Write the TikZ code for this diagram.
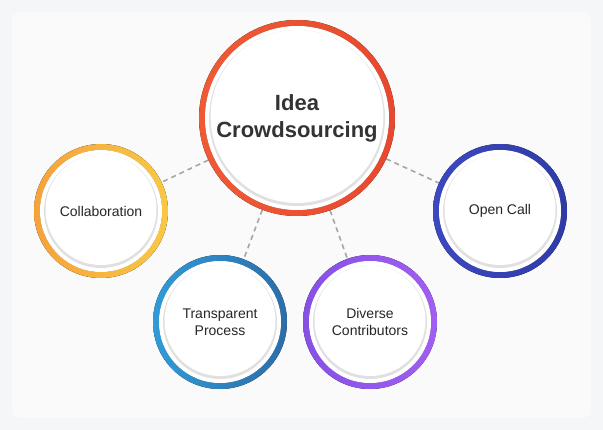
\documentclass[tikz,border=0pt]{standalone}
\usepackage{fontspec}
\setmainfont{Liberation Sans}
\usetikzlibrary{calc}
\begin{document}
\begin{tikzpicture}[x=1pt,y=-1pt,
  conn/.style={draw=gray!70,line width=1.6pt,dash pattern=on 5pt off 4pt},
  lbl/.style={font=\fontsize{14}{17}\selectfont,text=black!85,align=center}]
\definecolor{bg}{HTML}{F5F6F8}
\definecolor{rA}{HTML}{EF5A35}\definecolor{rB}{HTML}{E8482E}
\definecolor{oA}{HTML}{F6A23A}\definecolor{oB}{HTML}{F9C843}
\definecolor{bA}{HTML}{2F9BD8}\definecolor{bB}{HTML}{2C6DA8}
\definecolor{pA}{HTML}{8650E6}\definecolor{pB}{HTML}{A15EF2}
\definecolor{nA}{HTML}{3B48C2}\definecolor{nB}{HTML}{2F3BA6}
\fill[bg] (0,0) rectangle (603,430);
\fill[white!50!bg,rounded corners=8pt] (12,12) rectangle (591,418);
\node[circle,minimum size=196pt,inner sep=0] (c) at (297,118) {};
\node[circle,minimum size=134pt,inner sep=0] (a) at (101,211) {};
\node[circle,minimum size=134pt,inner sep=0] (t) at (220,322) {};
\node[circle,minimum size=134pt,inner sep=0] (d) at (370,322) {};
\node[circle,minimum size=134pt,inner sep=0] (o) at (500,211) {};
\draw[conn] (c) -- (a);
\draw[conn] (c) -- (t);
\draw[conn] (c) -- (d);
\draw[conn] (c) -- (o);
\newcommand{\ring}[5]{%
  \fill[left color=#4,right color=#5,even odd rule] #1 circle(#2) circle(#2-#3);
  \fill[white] #1 circle(#2-#3);
  \fill[black!12] #1 circle(#2-#3-4);
  \fill[white] ($#1+(0,-1.5)$) circle(#2-#3-5.5);}
\ring{(297,118)}{98}{6}{rA}{rB}
\ring{(101,211)}{67}{6}{oA}{oB}
\ring{(220,322)}{67}{6}{bA}{bB}
\ring{(370,322)}{67}{6}{pA}{pB}
\ring{(500,211)}{67}{6}{nA}{nB}
\node[font=\bfseries\fontsize{22}{27}\selectfont,text=black!80,align=center] at (c) {Idea\\Crowdsourcing};
\node[lbl] at (a) {Collaboration};
\node[lbl] at (t) {Transparent\\Process};
\node[lbl] at (d) {Diverse\\Contributors};
\node[lbl] at (o) {Open Call};
\end{tikzpicture}
\end{document}
